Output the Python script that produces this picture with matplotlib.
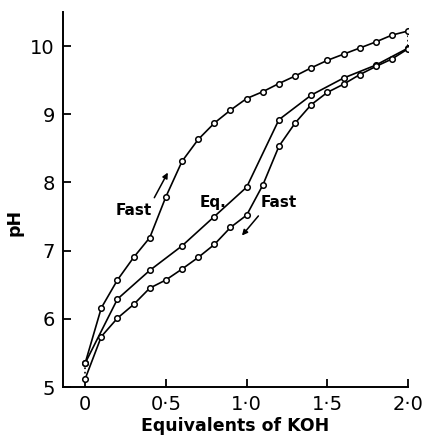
import numpy as np
import matplotlib
matplotlib.use("Agg")
import matplotlib.pyplot as plt

# pH vs equivalents of KOH
x_fwd = [0.0, 0.1, 0.2, 0.3, 0.4, 0.5, 0.6, 0.7, 0.8, 0.9, 1.0,
         1.1, 1.2, 1.3, 1.4, 1.5, 1.6, 1.7, 1.8, 1.9, 2.0]
ph_fwd = [5.35, 6.16, 6.57, 6.90, 7.19, 7.79, 8.31, 8.63, 8.87, 9.06, 9.23,
          9.33, 9.45, 9.56, 9.68, 9.79, 9.88, 9.97, 10.06, 10.16, 10.22]

x_eq = [0.0, 0.2, 0.4, 0.6, 0.8, 1.0, 1.2, 1.4, 1.6, 1.8, 2.0]
ph_eq = [5.35, 6.29, 6.71, 7.07, 7.50, 7.93, 8.92, 9.28, 9.53, 9.72, 9.97]

x_rev = [0.0, 0.1, 0.2, 0.3, 0.4, 0.5, 0.6, 0.7, 0.8, 0.9, 1.0,
         1.1, 1.2, 1.3, 1.4, 1.5, 1.6, 1.7, 1.8, 1.9, 2.0]
ph_rev = [5.12, 5.74, 6.01, 6.21, 6.45, 6.57, 6.73, 6.90, 7.09, 7.34, 7.52,
          7.96, 8.53, 8.87, 9.14, 9.32, 9.44, 9.58, 9.70, 9.81, 9.96]

xticks = [0, 0.5, 1.0, 1.5, 2.0]
xticklabels = ["0", "0·5", "1·0", "1·5", "2·0"]
yticks = [5, 6, 7, 8, 9, 10]

plt.rcParams['font.family'] = ['DejaVu Sans']

fig = plt.figure(figsize=(4.26, 4.41), dpi=100)
ax = fig.add_axes([0.148, 0.1224, 0.81, 0.8506])

mk = dict(color='k', lw=1.2, marker='o', ms=4, mfc='white', mec='k', mew=1.1)
for xs, ys in ((x_fwd, ph_fwd), (x_eq, ph_eq), (x_rev, ph_rev)):
    ax.plot(xs, ys, **mk)

# dotted joins at the ends
ax.plot([x_fwd[-1], x_rev[-1]], [ph_fwd[-1], ph_rev[-1]], color='k', ls=':', lw=1.2, zorder=1)
ax.plot([x_fwd[0], x_rev[0]], [ph_fwd[0], ph_rev[0]], color='k', ls=':', lw=1.2, zorder=1)

# labels and arrows
tk = dict(fontsize=11, fontweight='bold', ha='center', va='center')
ax.text(0.30, 7.59, "Fast", **tk)
ax.text(0.79, 7.71, "Eq.", **tk)
ax.text(1.20, 7.71, "Fast", **tk)
ax.annotate("", xy=(0.52, 8.18), xytext=(0.42, 7.74),
            arrowprops=dict(arrowstyle='-|>', color='k', lw=1.1, mutation_scale=8))
ax.annotate("", xy=(0.96, 7.19), xytext=(1.084, 7.54),
            arrowprops=dict(arrowstyle='-|>', color='k', lw=1.1, mutation_scale=8))

ax.set_xlim(-0.137, 2.0)
ax.set_ylim(5, 10.5)
ax.set_xticks(xticks)
ax.set_xticklabels(xticklabels)
ax.set_yticks(yticks)
for s in ('top', 'right'):
    ax.spines[s].set_visible(False)
for s in ('left', 'bottom'):
    ax.spines[s].set_linewidth(1.4)
ax.spines['bottom'].set_bounds(-0.137, 2.0)
ax.tick_params(direction='in', length=6, width=1.3, labelsize=14, pad=6)

ax.set_xlabel("Equivalents of KOH", fontsize=12.5, fontweight='bold', labelpad=2)
ax.set_ylabel("pH", fontsize=12.5, fontweight='bold')
ax.yaxis.set_label_coords(-0.115, 0.44)

fig.savefig("out.png", dpi=100)
